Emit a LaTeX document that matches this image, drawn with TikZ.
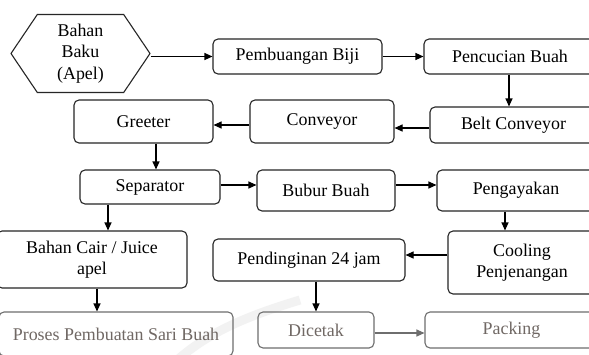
\documentclass[tikz,border=0pt]{standalone}
\usepackage{fontspec}
\setmainfont{Liberation Serif}
\usetikzlibrary{arrows.meta,shapes.symbols}
\definecolor{fadetext}{RGB}{112,104,100}
\definecolor{fadeline}{RGB}{110,110,110}
\definecolor{wmark}{RGB}{242,242,242}
\tikzset{
  every node/.style={font=\fontsize{17.9}{21.5}\selectfont},
  stepbox/.style={draw=black!85, line width=1.1pt, rounded corners=5pt,
    align=center, inner sep=0pt},
  fadebox/.style={stepbox, draw=fadeline, text=fadetext},
  arr/.style={draw=black, line width=1.1pt, -{Triangle[length=8pt,width=7pt]}},
  fadearr/.style={arr, draw=fadeline, -{Triangle[length=8pt,width=7pt,fill=fadeline]}}
}
\begin{document}
\begin{tikzpicture}[x=1pt,y=-1pt]
\clip (0,0) rectangle (589,354);
\fill[white] (0,0) rectangle (589,354);
% faint background mark
\draw[wmark, line width=9pt] (175,362) .. controls (205,335) and (240,318) .. (300,300);

% raw material
\node[draw=black!85, line width=1.1pt, signal, signal to=east and west,
  signal pointer angle=112, minimum width=139pt, minimum height=78pt,
  inner sep=0pt, align=center] (hex) at (80.5,53.5) {Bahan\\Baku\\(Apel)};

% first row
\node[stepbox, minimum width=169pt, minimum height=35pt] (pemb) at (297.5,56.5) {Pembuangan Biji};
\node[stepbox, minimum width=172pt, minimum height=35pt] (pencuc) at (510,56.5) {Pencucian Buah};

% second row
\node[stepbox, minimum width=167pt, minimum height=36pt] (belt) at (513.5,125) {Belt Conveyor};
\node[stepbox, minimum width=144pt, minimum height=43pt] (conv) at (322,121.5) {Conveyor};
\node[stepbox, minimum width=139pt, minimum height=43pt] (greeter) at (143.5,121.5) {Greeter};

% third row
\node[stepbox, minimum width=140pt, minimum height=34pt] (sep) at (150,187) {Separator};
\node[stepbox, minimum width=138pt, minimum height=41pt] (bubur) at (326,190.5) {Bubur Buah};
\node[stepbox, minimum width=158pt, minimum height=41pt] (peng) at (516,190.5) {Pengayakan};

% fourth row
\node[stepbox, minimum width=190pt, minimum height=57pt] (bahan) at (92,259.5) {Bahan Cair / Juice\\apel};
\node[stepbox, minimum width=192pt, minimum height=42pt] (pend) at (309,260) {Pendinginan 24 jam};
\node[stepbox, minimum width=148pt, minimum height=63pt] (cool) at (522,262.5) {Cooling\\Penjenangan};

% last row
\node[fadebox, minimum width=234pt, minimum height=44pt] (proses) at (116,334) {Proses Pembuatan Sari Buah};
\node[fadebox, minimum width=116pt, minimum height=36pt] (dicetak) at (316,330) {Dicetak};
\node[fadebox, minimum width=173pt, minimum height=36pt] (packing) at (511.5,330) {Packing};

% connectors
\draw[arr] ([yshift=-3pt]hex.east) -- ([yshift=-3pt]hex.east -| pemb.west);
\draw[arr] (pemb.east) -- (pemb.east -| pencuc.west);
\draw[arr] ([xshift=-1pt]pencuc.south) -- ([xshift=-1pt]pencuc.south |- belt.north);
\draw[arr] ([yshift=-3pt]belt.west) -- ([yshift=-3pt]belt.west -| conv.east);
\draw[arr] ([yshift=-3.5pt]conv.west) -- ([yshift=-3.5pt]conv.west -| greeter.east);
\draw[arr] ([xshift=12.5pt]greeter.south) -- ([xshift=12.5pt]greeter.south |- sep.north);
\draw[arr] ([yshift=2pt]sep.east) -- ([yshift=2pt]sep.east -| bubur.west);
\draw[arr] ([yshift=5.5pt]bubur.east) -- ([yshift=5.5pt]bubur.east -| peng.west);
\draw[arr] ([xshift=-11pt]peng.south) -- ([xshift=-11pt]peng.south |- cool.north);
\draw[arr] ([yshift=5pt]pend.east -| cool.west) -- ([yshift=5pt]pend.east);
\draw[arr] (dicetak.north |- pend.south) -- (dicetak.north);
\draw[arr] ([xshift=-42pt]sep.south) -- ([xshift=-42pt]sep.south |- bahan.north);
\draw[arr] ([xshift=5pt]bahan.south) -- ([xshift=5pt]bahan.south |- proses.north);
\draw[fadearr] ([yshift=-3pt]dicetak.east) -- ([yshift=-3pt]dicetak.east -| packing.west);
\end{tikzpicture}
\end{document}
